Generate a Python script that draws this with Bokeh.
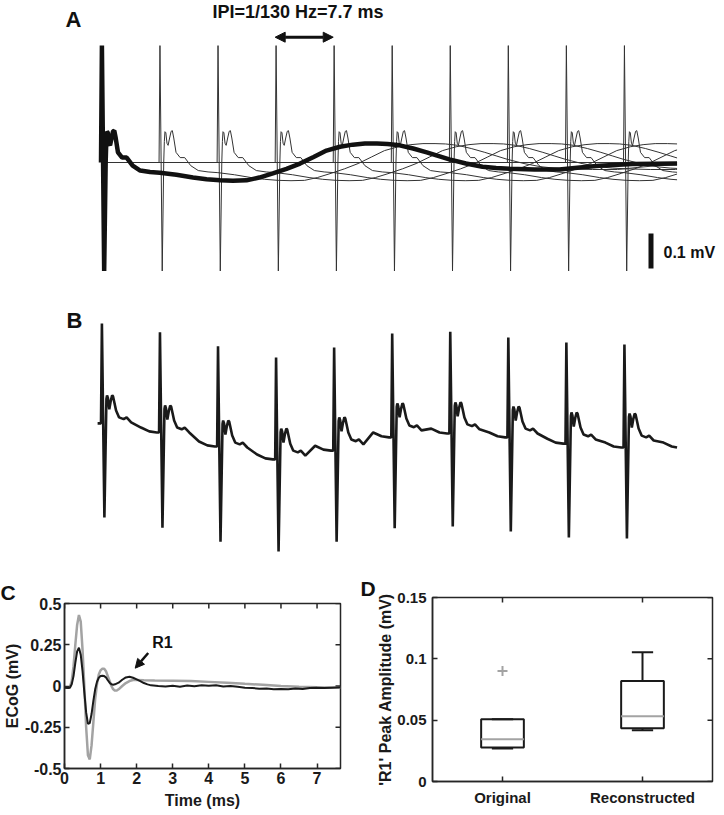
import numpy as np
from bokeh.plotting import figure
from bokeh.layouts import column, row
from bokeh.models import Label, Arrow, NormalHead, FixedTicker, Range1d, Title
from bokeh.embed import file_html
from bokeh.resources import INLINE

FONT = "Liberation Sans"

# ---------------- Panel A data (single-pulse response, ms / mV) ----------------
IPI = 7.7          # ms (1/130 Hz)
N_PULSES = 10
T_END = 76.4       # ms
resp_t = [0.0, 0.12, 0.42, 0.62, 0.7, 0.78, 0.9, 1.05, 1.2, 1.4,
          1.6, 1.76, 1.95, 2.25, 2.8, 3.4,
          4.2, 5.2, 6.5, 7.8, 10.0, 12.2, 14.0, 15.8, 17.5, 19.3,
          21.0, 22.8, 24.6, 26.4, 28.2, 29.9, 31.7, 33.4, 35.0, 36.6,
          38.0, 39.6, 41.4, 43.2, 44.7, 46.2, 48.4, 50.6, 52.4, 54.2,
          57.5, 60.8, 63.5, 66.1, 70.5, 76.4]
resp_v = [0.0, 0.334, -0.31, 0.0, 0.06, 0.088, 0.085, 0.055, 0.049, 0.07,
          0.089, 0.091, 0.07, 0.029, 0.014, 0.014,
          -0.009, -0.023, -0.027, -0.029, -0.035, -0.043, -0.048, -0.051, -0.052, -0.051,
          -0.043, -0.031, -0.018, -0.003, 0.016, 0.034, 0.045, 0.051, 0.054, 0.054,
          0.053, 0.049, 0.040, 0.029, 0.019, 0.009, -0.003, -0.012, -0.016, -0.018,
          -0.020, -0.020, -0.014, -0.009, -0.004, -0.003]

# ---------------- Panel B data (per-pulse levels, mV) ----------------
B_pre = [0.049, 0.023, -0.017, -0.054, -0.029, 0.009, 0.020, 0.009, -0.009, -0.020]
B_peak = [0.334, 0.309, 0.269, 0.237, 0.266, 0.306, 0.311, 0.294, 0.280, 0.274]
B_trough = [-0.220, -0.249, -0.289, -0.317, -0.289, -0.251, -0.246, -0.260, -0.277, -0.280]
B_bump = [0.129, 0.100, 0.057, 0.034, 0.066, 0.106, 0.109, 0.097, 0.080, 0.077]
B_end = -0.020
B_shape_t = [0.72, 0.8, 0.92, 1.1, 1.3, 1.48, 1.6, 1.75, 2.0, 2.4, 3.0, 3.4, 4.0]
B_shape_dv = [-0.01, 0.0, -0.008, -0.04, -0.015, 0.0, -0.003, -0.018, -0.043, -0.063,
              -0.068, -0.063, -0.077]
B_desc_t = [5.3, 6.4]
B_desc_dv = [0.014, 0.003]

# ---------------- Panel C data ----------------
C_t_orig = [0.0, 0.1, 0.15, 0.2, 0.25, 0.3, 0.35, 0.4, 0.45, 0.5,
            0.55, 0.6, 0.65, 0.7, 0.75, 0.8, 0.85, 0.9, 0.95, 1.0,
            1.05, 1.1, 1.15, 1.2, 1.25, 1.3, 1.35, 1.4, 1.5, 1.6,
            1.7, 1.8, 1.9, 2.0, 2.1, 2.2, 2.3, 2.4, 2.6, 2.8,
            3.0, 3.2, 3.4, 3.6, 3.8, 4.0, 4.2, 4.4, 4.6, 4.8,
            5.0, 5.2, 5.4, 5.6, 5.8, 6.0, 6.2, 6.4, 6.6, 6.8,
            7.0, 7.2, 7.4, 7.65]
C_v_orig = [-0.01, -0.012, -0.01, 0.01, 0.06, 0.14, 0.21, 0.232, 0.19, 0.09,
            -0.04, -0.16, -0.23, -0.225, -0.17, -0.09, -0.02, 0.025, 0.05, 0.06,
            0.062, 0.06, 0.052, 0.035, 0.02, 0.01, 0.008, 0.01, 0.02, 0.038,
            0.052, 0.056, 0.05, 0.04, 0.03, 0.018, 0.01, 0.004, 0.0, -0.003,
            0.002, -0.004, 0.003, -0.002, 0.004, 0.001, 0.004, -0.003, 0.0, -0.005,
            -0.01, -0.012, -0.016, -0.015, -0.02, -0.018, -0.02, -0.015, -0.018, -0.012,
            -0.01, -0.012, -0.01, -0.008]
C_t_rec = [0.0, 0.1, 0.15, 0.2, 0.25, 0.3, 0.35, 0.4, 0.45, 0.5,
           0.55, 0.6, 0.65, 0.7, 0.75, 0.8, 0.85, 0.9, 0.95, 1.0,
           1.05, 1.1, 1.15, 1.2, 1.25, 1.3, 1.35, 1.4, 1.45, 1.5,
           1.6, 1.7, 1.8, 1.9, 2.0, 2.2, 2.5, 3.0, 3.5, 4.0,
           4.5, 5.0, 5.5, 6.0, 6.5, 7.0, 7.65]
C_v_rec = [-0.01, -0.01, -0.005, 0.03, 0.12, 0.25, 0.37, 0.43, 0.39, 0.22,
           0.0, -0.25, -0.42, -0.445, -0.36, -0.22, -0.08, 0.01, 0.07, 0.095,
           0.105, 0.105, 0.09, 0.06, 0.03, 0.0, -0.02, -0.028, -0.027, -0.02,
           0.0, 0.018, 0.03, 0.036, 0.037, 0.035, 0.033, 0.032, 0.03, 0.025,
           0.02, 0.013, 0.007, 0.0, -0.004, -0.007, -0.01]
C_xticks = [0, 1, 2, 3, 4, 5, 6, 7]
C_yticks = [-0.5, -0.25, 0, 0.25, 0.5]
C_ylabels = ["-0.5", "-0.25", "0", "0.25", "0.5"]

# ---------------- Panel D data ----------------
D_cats = ["Original", "Reconstructed"]
D_q1 = [0.0278, 0.0435]
D_med = [0.0345, 0.0532]
D_q3 = [0.0508, 0.0820]
D_wlo = [0.0270, 0.0417]
D_whi = [0.0508, 0.1053]
D_out_idx = [0]
D_out_val = [0.090]
D_yticks = [0, 0.05, 0.1, 0.15]
D_ylabels = ["0", "0.05", "0.1", "0.15"]

# ---------------- layout constants (page pixels) ----------------
W = 724
H1 = 566
H2 = 815 - H1
PX_PER_MS = 7.54
X0_PAGE = 100.5
PX_PER_MV = 350.0
Y0_PAGE = 162.0
INK = "#1a1a1a"
AX = "#262626"


def tx(px):
    return (px - X0_PAGE) / PX_PER_MS


def ty(py):
    return (Y0_PAGE - py) / PX_PER_MV


B_OFFSET = ty(440)


def lab(p, x, y, text, size, align="left"):
    p.add_layout(Label(x=x, y=y, text=text,
                       text_font=FONT, text_font_style="bold",
                       text_font_size=size, text_color="#111111",
                       text_align=align, text_baseline="middle"))


def panel_letter(p, text, offset, standoff):
    p.title = Title(text=text, align="left", offset=offset, standoff=standoff,
                    text_font=FONT, text_font_style="bold", text_font_size="21px",
                    text_color="#111111")


# ================= Figure 1: panels A and B =================
p1 = figure(width=W, height=H1, x_range=Range1d(tx(0), tx(W)),
            y_range=Range1d(ty(H1), ty(0)), output_backend="svg",
            toolbar_location=None, x_axis_location=None, y_axis_location=None,
            min_border=0, title=None, outline_line_color=None,
            background_fill_color="white", border_fill_color="white")
p1.grid.visible = False
p1.frame_align = False

# zero line
p1.line([0, T_END], [0, 0], line_color="#333333", line_width=1)

# thin traces: response shifted to each later pulse
rt = np.array(resp_t)
rv = np.array(resp_v)
for k in range(1, N_PULSES):
    tk = k * IPI
    tt = tk + rt
    m = tt <= T_END
    xs = list(tt[m]) + [T_END]
    ys = list(rv[m]) + [float(np.interp(T_END - tk, rt, rv))]
    p1.line(xs, ys, line_color="#333333", line_width=1)

# thick trace: single pulse response
p1.line(resp_t, resp_v, line_color="#111111", line_width=4.5)

# panel B trace
bt = [-0.45]
bv = [B_pre[0]]
for k in range(N_PULSES):
    t0 = k * IPI
    nxt = B_pre[k + 1] if k < N_PULSES - 1 else B_end
    bt += [t0, t0 + 0.12, t0 + 0.45]
    bv += [B_pre[k], B_peak[k], B_trough[k]]
    for r, d in zip(B_shape_t, B_shape_dv):
        bt.append(t0 + r)
        bv.append(B_bump[k] + d)
    for r, d in zip(B_desc_t, B_desc_dv):
        bt.append(t0 + r)
        bv.append(nxt + d)
    bt.append(t0 + IPI - 0.3 if k < N_PULSES - 1 else T_END)
    bv.append(nxt)
p1.line(bt, [v + B_OFFSET for v in bv], line_color=INK, line_width=2.6)

# annotations
lab(p1, tx(65), ty(18.5), "A", "22px")
lab(p1, tx(66), ty(320), "B", "22px")
lab(p1, tx(297.5), ty(11.5), "IPI=1/130 Hz=7.7 ms", "18px", align="center")
p1.add_layout(Arrow(x_start=3 * IPI, y_start=ty(36.7), x_end=4 * IPI, y_end=ty(36.7),
                    line_width=3, line_color="#111111",
                    start=NormalHead(size=10, fill_color="#111111", line_color="#111111"),
                    end=NormalHead(size=10, fill_color="#111111", line_color="#111111")))
# 0.1 mV scale bar
p1.segment(x0=[tx(650.5)], y0=[ty(268)], x1=[tx(650.5)], y1=[ty(268) + 0.1],
           line_width=5, line_color="#111111", line_cap="butt")
lab(p1, tx(663), ty(251.5), "0.1 mV", "16px")


# ================= styling helper =================
def style_axis(ax, ticks, overrides=None, size="16px"):
    ax.ticker = FixedTicker(ticks=ticks)
    ax.major_tick_in = 5
    ax.major_tick_out = 0
    ax.minor_tick_line_color = None
    ax.axis_line_color = AX
    ax.axis_line_width = 1.5
    ax.major_tick_line_color = AX
    ax.major_tick_line_width = 1.5
    ax.major_label_text_font = FONT
    ax.major_label_text_font_style = "bold"
    ax.major_label_text_color = INK
    ax.major_label_text_font_size = size
    ax.major_label_standoff = 3
    ax.axis_label_text_font = FONT
    ax.axis_label_text_font_style = "bold"
    ax.axis_label_text_font_size = "16px"
    ax.axis_label_text_color = INK
    ax.axis_label_standoff = 1
    if overrides:
        ax.major_label_overrides = overrides


def inner_ticks(p, xs, ys, vertical):
    # tick marks on the top / right frame edges (outer half is clipped by the frame)
    p.scatter(x=xs, y=ys, marker="dash", size=10, angle=(np.pi / 2 if vertical else 0.0),
              line_color=AX, line_width=1.5)


# ================= Figure C =================
C_XMAX = 7.65
C_FL, C_FR, C_FT, C_FB = 64, 20, 603 - H1, 47
pc = figure(width=360, height=H2, x_range=Range1d(0, C_XMAX), y_range=Range1d(-0.5, 0.5),
            output_backend="svg", toolbar_location=None,
            min_border_left=C_FL, min_border_right=C_FR, min_border_top=C_FT,
            min_border_bottom=C_FB,
            background_fill_color="white", border_fill_color="white")
panel_letter(pc, "C", -C_FL, 0)
pc.frame_align = False
pc.grid.visible = False
pc.outline_line_color = AX
pc.outline_line_width = 1.5
style_axis(pc.xaxis[0], C_xticks)
style_axis(pc.yaxis[0], C_yticks, dict(zip(C_yticks, C_ylabels)))
pc.xaxis[0].axis_label = "Time (ms)"
pc.xaxis[0].axis_label_standoff = 5
pc.yaxis[0].axis_label = "ECoG (mV)"
inner_ticks(pc, C_xticks, [0.5] * len(C_xticks), True)
inner_ticks(pc, [C_XMAX] * len(C_yticks), C_yticks, False)

pc.line(C_t_rec, C_v_rec, line_color="#a3a3a3", line_width=2.5)
pc.line(C_t_orig, C_v_orig, line_color=INK, line_width=2)
pc.add_layout(Arrow(x_start=2.32, y_start=0.2, x_end=1.96, y_end=0.108,
                    line_width=2.5, line_color="#111111",
                    end=NormalHead(size=9, fill_color="#111111", line_color="#111111")))
lab(pc, 2.43, 0.266, "R1", "16px")

# ================= Figure D =================
D_FL, D_FR, D_FT, D_FB = 72, 12, 597 - H1, 34
pd_ = figure(width=364, height=H2, x_range=Range1d(0, 2), y_range=Range1d(0, 0.15),
             output_backend="svg", toolbar_location=None,
             min_border_left=D_FL, min_border_right=D_FR, min_border_top=D_FT,
             min_border_bottom=D_FB,
             background_fill_color="white", border_fill_color="white")
panel_letter(pd_, "D", -D_FL, -5)
pd_.frame_align = False
pd_.grid.visible = False
pd_.outline_line_color = AX
pd_.outline_line_width = 1.5
pos = [i + 0.5 for i in range(len(D_cats))]
style_axis(pd_.xaxis[0], pos, dict(zip(pos, D_cats)), size="15px")
pd_.xaxis[0].major_label_standoff = 7
style_axis(pd_.yaxis[0], D_yticks, dict(zip(D_yticks, D_ylabels)), size="15px")
pd_.yaxis[0].major_label_standoff = 6
pd_.yaxis[0].axis_label_standoff = 0
pd_.yaxis[0].axis_label = "'R1' Peak Amplitude (mV)"
inner_ticks(pd_, pos, [0.15] * len(pos), True)
inner_ticks(pd_, [2.0] * len(D_yticks), D_yticks, False)

BW = 0.305
CAP = 0.076
pd_.segment(x0=pos, y0=D_q3, x1=pos, y1=D_whi, line_color=INK, line_width=2)
pd_.segment(x0=pos, y0=D_q1, x1=pos, y1=D_wlo, line_color=INK, line_width=2)
pd_.segment(x0=[p - CAP for p in pos], y0=D_whi, x1=[p + CAP for p in pos], y1=D_whi,
            line_color=INK, line_width=2)
pd_.segment(x0=[p - CAP for p in pos], y0=D_wlo, x1=[p + CAP for p in pos], y1=D_wlo,
            line_color=INK, line_width=2)
pd_.vbar(x=pos, width=BW, bottom=D_q1, top=D_q3, fill_color=None,
         line_color=INK, line_width=2)
pd_.segment(x0=[p - BW / 2 for p in pos], y0=D_med, x1=[p + BW / 2 for p in pos], y1=D_med,
            line_color="#a3a3a3", line_width=2)
pd_.scatter(x=[pos[i] for i in D_out_idx], y=D_out_val, marker="cross", size=10,
            line_color="#a3a3a3", line_width=2)

layout = column(p1, row(pc, pd_))
open("out.html", "w").write(file_html(layout, INLINE))
